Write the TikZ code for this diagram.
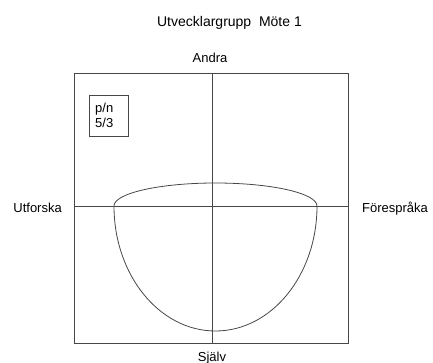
\documentclass[tikz,border=0pt]{standalone}
\usepackage{fontspec}
\setmainfont{Liberation Sans}
\begin{document}
\begin{tikzpicture}[x=1pt,y=-1pt,
  lbl/.style={inner sep=0pt,font=\fontsize{13}{15}\selectfont},
  ttl/.style={inner sep=0pt,font=\fontsize{14}{16}\selectfont},
  ln/.style={draw=black!72,line width=0.8pt}]
\useasboundingbox (0,0) rectangle (433,363);
% frame
\draw[ln] (74,73) rectangle (348,343);
\coordinate (top) at (212,73);
\coordinate (bot) at (212,343);
\coordinate (lft) at (74,206);
\coordinate (rgt) at (348,206);
\draw[ln] (top) -- (bot);
\draw[ln] (lft) -- (rgt);
% shape
\coordinate (pl) at (114,206);
\coordinate (pr) at (317,206);
\draw[ln] (pl) arc[start angle=180,end angle=0,x radius=101.5,y radius=-23]
  arc[start angle=0,end angle=-180,x radius=101.5,y radius=-125];
% small box
\node[draw=black!72,line width=0.8pt,minimum width=39pt,minimum height=41pt,anchor=north west,inner sep=0pt] (box) at (89,95) {};
\node[lbl,anchor=base west] (pn) at (95,113) {p/n};
\node[lbl,anchor=base west] (r) at (95,128) {5/3};
% labels
\node[ttl,anchor=base] (title) at (229.5,27) {Utvecklargrupp\ \ Möte 1};
\node[lbl,anchor=base] (andra) at (210,63) {Andra};
\node[lbl,anchor=base] (sjalv) at (212,361.5) {Själv};
\node[lbl,anchor=base east] (utf) at (62,212) {Utforska};
\node[lbl,anchor=base west] (for) at (362,212) {Förespråka};
\end{tikzpicture}
\end{document}
